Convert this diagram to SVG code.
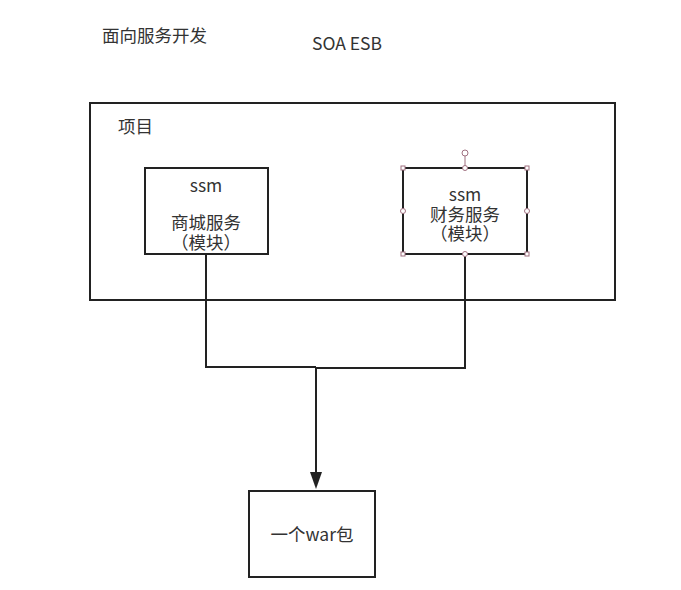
<svg xmlns="http://www.w3.org/2000/svg" width="681" height="590" viewBox="0 0 681 590">
<style>
.box{fill:#fff;stroke:#222;stroke-width:2}
.t{font-family:"Noto Sans CJK SC","Noto Sans",sans-serif;font-size:17.5px;fill:#333}
.c{text-anchor:middle}
.ln{fill:none;stroke:#222;stroke-width:2}
.h{fill:#fff;stroke:#a07080;stroke-width:1}
</style>
<rect width="681" height="590" fill="#fff"/>
<text class="t" x="102" y="42">面向服务开发</text>
<text class="t" x="312" y="50">SOA ESB</text>
<g id="project">
<rect class="box" x="90" y="103" width="525" height="197"/>
<text class="t" x="118" y="133">项目</text>
</g>
<g id="connectors">
<polyline class="ln" points="206,254 206,367 316,367"/>
<polyline class="ln" points="465,254 465,368 316,368"/>
<line class="ln" x1="316" y1="367" x2="316" y2="474" stroke-width="3"/>
<path d="M310,472 L322,472 L316,489 Z" fill="#222"/>
</g>
<g id="mall">
<rect class="box" x="145" y="168" width="123" height="86"/>
<text class="t c" x="206" y="192">ssm</text>
<text class="t c" x="206" y="229">商城服务</text>
<text class="t c" x="206" y="249">（模块）</text>
</g>
<g id="finance">
<rect class="box" x="403" y="168" width="124" height="86" stroke="#333"/>
<text class="t c" x="465" y="201">ssm</text>
<text class="t c" x="465" y="221">财务服务</text>
<text class="t c" x="465" y="240">（模块）</text>
<line x1="465" y1="156" x2="465" y2="168" stroke="#a07080" stroke-width="1"/>
<circle class="h" cx="465" cy="153" r="3"/>
<rect class="h" x="401" y="166" width="4" height="4"/>
<rect class="h" x="525" y="166" width="4" height="4"/>
<rect class="h" x="401" y="252" width="4" height="4"/>
<rect class="h" x="525" y="252" width="4" height="4"/>
<circle class="h" cx="465" cy="168" r="2.5"/>
<circle class="h" cx="465" cy="254" r="2.5"/>
<circle class="h" cx="403" cy="211" r="2.5"/>
<circle class="h" cx="527" cy="211" r="2.5"/>
</g>
<g id="war">
<rect class="box" x="249" y="491" width="126" height="86"/>
<text class="t c" x="312" y="541">一个war包</text>
</g>
</svg>
